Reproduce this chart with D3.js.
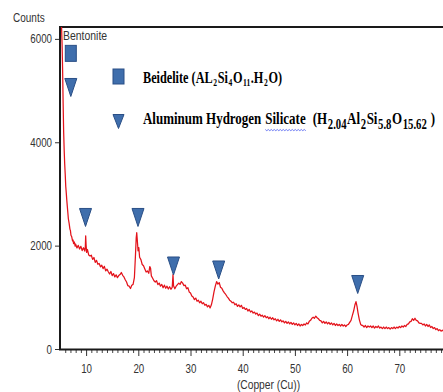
<!DOCTYPE html>
<html><head><meta charset="utf-8">
<script src="https://cdn.jsdelivr.net/npm/d3@7/dist/d3.min.js"></script>
<style>body{margin:0;background:#fff}svg{display:block}</style></head>
<body>
<script>
// ---- data (2-theta, counts) ----
const angle = [5.3,5.4,5.5,5.6,5.7,5.8,5.9,6.0,6.1,6.2,6.3,6.4,6.5,6.6,6.75,6.9,7.0,7.1,7.25,7.4,7.5,7.6,7.75,7.9,8.0,
8.25,8.5,8.75,9.0,9.25,9.5,9.75,9.85,9.92,10.0,10.1,10.25,10.5,10.75,11.0,11.25,11.5,11.75,12.0,12.25,12.5,12.75,13.0,13.25,13.5,13.75,14.0,14.25,14.5,14.75,
15.0,15.25,15.5,15.75,16.0,16.25,16.5,16.75,17.0,17.25,17.5,17.75,18.0,18.25,18.5,18.75,19.0,19.25,19.45,19.6,19.7,19.8,19.95,20.1,20.25,20.5,20.75,
21.0,21.25,21.5,21.75,22.0,22.2,22.35,22.5,22.75,23.0,23.25,23.5,23.75,24.0,24.25,24.5,24.75,25.0,25.25,25.5,25.75,26.0,26.25,26.5,26.65,26.75,
27.0,27.25,27.5,27.75,28.0,28.25,28.5,28.75,29.0,29.25,29.5,29.75,30.0,30.25,30.5,30.75,31.0,31.25,31.5,31.75,32.0,32.25,32.5,32.75,33.0,33.25,33.5,33.75,
34.0,34.25,34.5,34.75,35.0,35.25,35.5,35.75,36.0,36.25,36.5,36.75,37.0,37.25,37.5,37.75,38.0,38.25,38.5,38.75,39.0,39.25,39.5,39.75,
40.0,40.25,40.5,40.75,41.0,41.25,41.5,41.75,42.0,42.25,42.5,42.75,43.0,43.25,43.5,43.75,44.0,44.25,44.5,44.75,45.0,45.25,45.5,45.75,
46.0,46.25,46.5,46.75,47.0,47.25,47.5,47.75,48.0,48.25,48.5,48.75,49.0,49.25,49.5,49.75,50.0,50.25,50.5,50.75,51.0,51.25,51.5,51.75,
52.0,52.25,52.5,52.75,53.0,53.25,53.5,53.75,54.0,54.25,54.5,54.75,55.0,55.25,55.5,55.75,56.0,56.25,56.5,56.75,57.0,57.25,57.5,57.75,
58.0,58.25,58.5,58.75,59.0,59.25,59.5,59.75,60.0,60.25,60.5,60.75,61.0,61.25,61.5,61.7,61.9,62.1,62.35,62.6,62.85,63.0,63.25,63.5,63.75,
64.0,64.25,64.5,64.75,65.0,65.25,65.5,65.75,66.0,66.25,66.5,66.75,67.0,67.25,67.5,67.75,68.0,68.25,68.5,68.75,69.0,69.25,69.5,69.75,
70.0,70.25,70.5,70.75,71.0,71.25,71.5,71.75,72.0,72.25,72.5,72.75,73.0,73.25,73.5,73.75,74.0,74.25,74.5,74.75,75.0,75.25,75.5,75.75,
76.0,76.25,76.5,76.75,77.0,77.25,77.5,77.75,78.0,78.25,78.5];
const counts = [6240,5900,5400,4750,4200,3850,3580,3380,3150,3020,2880,2760,2640,2520,2430,2320,2290,2200,2170,2090,2110,2040,2070,1990,2030,
1955,2005,1935,1985,1905,1960,1895,1970,2190,2010,1870,1925,1820,1800,1815,1735,1770,1675,1715,1640,1655,1590,1620,1555,1600,1510,1545,1495,1450,1500,
1420,1460,1395,1435,1380,1420,1440,1480,1425,1395,1340,1295,1225,1215,1170,1235,1250,1380,1800,2150,2250,2120,1900,1960,1775,1730,1635,
1610,1550,1490,1510,1465,1595,1560,1415,1370,1320,1295,1320,1245,1275,1215,1250,1185,1235,1175,1215,1160,1205,1155,1195,1440,1225,
1165,1215,1245,1275,1250,1305,1275,1225,1235,1165,1185,1105,1085,1025,1005,955,985,925,945,895,925,875,895,845,865,815,845,795,
855,965,1105,1215,1305,1255,1285,1195,1175,1125,1085,1055,1015,985,945,925,895,905,855,875,825,855,815,845,
785,805,765,785,735,765,715,735,695,715,675,695,645,675,635,655,615,645,605,625,585,615,575,605,
565,585,545,575,535,565,525,545,505,535,495,525,485,515,475,505,465,495,455,485,445,475,455,485,
465,505,485,535,555,595,615,595,635,605,585,555,545,505,535,495,525,485,515,475,505,465,495,455,
485,455,475,445,475,445,465,435,465,475,515,555,645,735,855,915,825,695,565,475,455,455,425,455,415,
445,425,445,415,445,405,435,415,445,405,425,395,425,395,425,395,415,385,415,395,425,395,425,405,
435,415,445,425,455,435,475,485,525,535,585,555,595,555,545,505,495,495,465,485,445,475,435,465,
415,435,395,415,375,395,355,375,345,365,335];
const xTickValues = [10,20,30,40,50,60,70];
const yTickValues = [0,2000,4000,6000];
const squareAngle = [7.07];
const squareCounts = [5720];
const triangleAngle = [7.07,9.89,19.94,26.74,35.4,62.03];
const triangleCounts = [5060,2545,2545,1606,1529,1248];
const sampleName = "Bentonite";
const yTitle = "Counts";
const xTitle = "(Copper (Cu))";
// legend label pieces: [text, isSubscript]
const legend1 = [["Beidelite (AL",0],["2",1],["Si",0],["4",1],["O",0],["11",1],[".H",0],["2",1],["O)",0]];
const legend2 = [["Aluminum Hydrogen ",0],["Silicate",0],["  (H",0],["2.04",1],["Al",0],["2",1],["Si",0],["5.8",1],["O",0],["15.62",1],[" )",0]];

const W = 443, H = 392;
const svg = d3.select("body").append("svg").attr("width", W).attr("height", H);
const x = d3.scaleLinear().domain([5, 78.37]).range([60, 443]);
const y = d3.scaleLinear().domain([0, 6230]).range([349, 27]);

const sans = "'Liberation Sans', Arial, sans-serif";
const serif = "'Liberation Serif', 'Times New Roman', serif";
function squeeze(sel, k) {
  sel.each(function () {
    const w = this.getComputedTextLength();
    this.setAttribute("textLength", w * k);
    this.setAttribute("lengthAdjust", "spacingAndGlyphs");
  });
}

svg.append("defs").append("clipPath").attr("id", "plot")
  .append("rect").attr("x", 60).attr("y", 27).attr("width", 383).attr("height", 322);

// axes
const gy = svg.append("g").attr("transform", "translate(60,0)")
  .call(d3.axisLeft(y).tickValues(yTickValues).tickSize(5).tickPadding(3).tickFormat(d3.format("d")));
gy.select(".domain").remove();
gy.selectAll("line").attr("stroke", "#333");
gy.selectAll("text").attr("font-family", sans).attr("font-size", 12.5).attr("fill", "#333").call(squeeze, 0.78);

const gx = svg.append("g").attr("transform", "translate(0,349)")
  .call(d3.axisBottom(x).tickValues(xTickValues).tickSize(7).tickPadding(8).tickFormat(d3.format("d")));
gx.select(".domain").remove();
gx.selectAll("line").attr("stroke", "#333");
gx.selectAll("text").attr("font-family", sans).attr("font-size", 12.5).attr("fill", "#333").call(squeeze, 0.78);

const minor = d3.range(6, 79).filter(d => d % 10 !== 0);
const gm = svg.append("g").attr("transform", "translate(0,349)")
  .call(d3.axisBottom(x).tickValues(minor).tickSize(4).tickFormat(""));
gm.select(".domain").remove();
gm.selectAll("line").attr("stroke", "#444");

// frame
svg.append("path").attr("d", "M60,350 L60,27 L443,27").attr("fill", "none").attr("stroke", "#1a1a1a").attr("stroke-width", 2);
svg.append("line").attr("x1", 59).attr("x2", 443).attr("y1", 349.5).attr("y2", 349.5).attr("stroke", "#1a1a1a").attr("stroke-width", 2);

// pattern line
const pts = angle.map((a, i) => [a, counts[i]]);
svg.append("path").datum(pts).attr("clip-path", "url(#plot)")
  .attr("d", d3.line().x(d => x(d[0])).y(d => y(d[1])))
  .attr("fill", "none").attr("stroke", "#e3131b").attr("stroke-width", 1.25).attr("stroke-linejoin", "round");

// titles
svg.append("text").attr("x", 13).attr("y", 22).text(yTitle)
  .attr("font-family", sans).attr("font-size", 12.5).attr("fill", "#333").call(squeeze, 0.8);
svg.append("text").attr("x", 268.5).attr("y", 389).attr("text-anchor", "middle").text(xTitle)
  .attr("font-family", sans).attr("font-size", 12.5).attr("fill", "#333").call(squeeze, 0.82);
svg.append("text").attr("x", 63).attr("y", 39.5).text(sampleName)
  .attr("font-family", sans).attr("font-size", 12).attr("fill", "#333").call(squeeze, 0.87);

// markers
const mFill = "#3f6eac", mStroke = "#2a4f86";
const triPath = (w, h) => `M${-w/2},${-h/2} L${w/2},${-h/2} L0,${h/2} Z`;
svg.selectAll(".sq").data(squareAngle.map((a, i) => [a, squareCounts[i]])).join("rect")
  .attr("x", d => x(d[0]) - 5.5).attr("y", d => y(d[1]) - 8).attr("width", 11).attr("height", 16)
  .attr("fill", mFill).attr("stroke", mStroke).attr("stroke-width", 1);
svg.selectAll(".tri").data(triangleAngle.map((a, i) => [a, triangleCounts[i]])).join("path")
  .attr("transform", d => `translate(${x(d[0])},${y(d[1])})`)
  .attr("d", triPath(12, 18)).attr("fill", mFill).attr("stroke", mStroke).attr("stroke-width", 1).attr("stroke-linejoin", "round");

// legend
const lg = svg.append("g");
lg.append("rect").attr("x", 113).attr("y", 69).attr("width", 11).attr("height", 15)
  .attr("fill", mFill).attr("stroke", mStroke).attr("stroke-width", 1);
lg.append("path").attr("transform", "translate(118.5,121.5)").attr("d", triPath(11, 14))
  .attr("fill", mFill).attr("stroke", mStroke).attr("stroke-width", 1).attr("stroke-linejoin", "round");

// lay out each label piece as its own text, horizontally compressed by a transform
function legendLine(parts, x0, baseline, target, mainSize, subSize, subDrop) {
  const gap = 0.6;
  const nodes = parts.map(([s, sub]) => lg.append("text")
    .attr("x", 0).attr("y", 0)
    .attr("font-family", serif).attr("font-weight", "bold")
    .attr("font-size", sub ? subSize : mainSize).attr("fill", "#000")
    .style("white-space", "pre").text(s));
  const widths = nodes.map(n => n.node().getComputedTextLength());
  const k = (target - gap * (parts.length - 1)) / d3.sum(widths);
  let cx = x0;
  const spans = [];
  nodes.forEach((n, i) => {
    const w = widths[i] * k;
    const yy = baseline + (parts[i][1] ? subDrop : 0);
    n.attr("transform", `translate(${cx},${yy}) scale(${k},1)`);
    spans.push([cx, cx + w]);
    cx += w + gap;
  });
  return spans;
}
legendLine(legend1, 143, 83, 139, 17, 10.5, 3);
const spans2 = legendLine(legend2, 143, 124, 292, 17, 14, 5);

// spell-check wavy underline under "Silicate"
const [sx0, sx1] = spans2[1];
let wave = `M${sx0},129.5`;
for (let px = sx0, k = 0; px < sx1; px += 1.5, k++) wave += ` L${px + 1.5},${129.5 + (k % 2 ? 0 : 1.2)}`;
lg.append("path").attr("d", wave).attr("fill", "none").attr("stroke", "#4a5cf0").attr("stroke-width", 0.8);
</script>
</body></html>
